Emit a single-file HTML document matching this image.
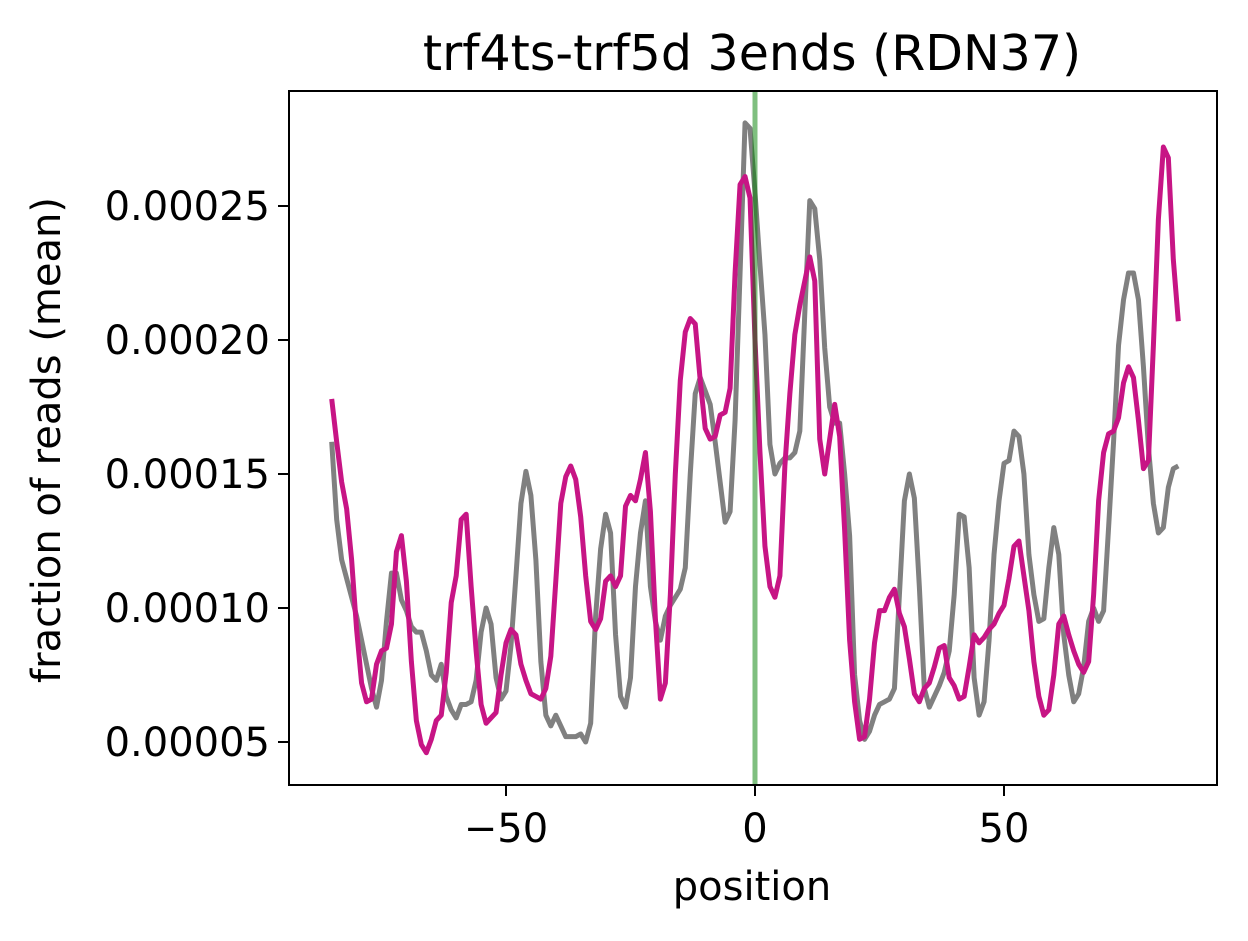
<!DOCTYPE html>
<html><head><meta charset="utf-8"><style>
html,body{margin:0;padding:0;background:#fff;}
svg{display:block;font-family:"DejaVu Sans","Liberation Sans",sans-serif;}
</style></head><body>
<svg id="chart" width="1248" height="941" viewBox="0 0 1248 941" xmlns="http://www.w3.org/2000/svg">
<rect x="0" y="0" width="1248" height="941" fill="#fff"/>
<text x="752" y="70" font-size="49" text-anchor="middle">trf4ts-trf5d 3ends (RDN37)</text>
<g id="plot"></g>
<g id="xticks"></g>
<g id="yticks"></g>
<rect x="289" y="91" width="928" height="694" fill="none" stroke="#000" stroke-width="2"/>
<text x="752" y="900" font-size="40" text-anchor="middle">position</text>
<text transform="translate(60,440) rotate(-90)" font-size="40" text-anchor="middle">fraction of reads (mean)</text>
</svg>
<script>
const startPos = -85;
const grayValues = [
162,133,118,111,104,97,88,79,70,63,
73,95,113,113,103,99,93,91,91,84,
75,73,79,67,62,59,64,64,65,73,
91,100,94,74,66,69,86,112,139,151,
142,118,80,60,56,60,56,52,52,52,
53,50,57,97,122,135,128,90,67,63,
74,108,128,140,108,95,88,97,101,104,
107,115,150,180,186,181,176,162,147,132,
136,170,225,281,279,255,228,202,161,150,
154,156,156,158,166,210,252,249,230,197,
175,169,169,150,127,75,58,51,54,60,
64,65,66,70,105,140,150,141,108,70,
63,67,71,76,84,105,135,134,115,74,
60,65,88,120,140,154,155,166,164,150,
120,105,95,96,115,130,120,90,75,65,
68,78,95,100,95,99,130,162,198,215,
225,225,215,190,160,139,128,130,145,152,
153];
const magentaValues = [
178,162,147,137,118,92,72,65,66,79,
84,85,94,121,127,110,80,58,49,46,
51,58,60,76,102,112,133,135,108,84,
64,57,59,61,75,87,92,90,79,73,
68,67,66,70,82,110,139,149,153,148,
134,112,95,92,96,110,112,108,112,138,
142,140,148,158,136,96,66,72,105,150,
185,203,208,206,185,167,163,164,172,173,
182,225,258,261,253,200,158,123,108,104,
112,153,180,202,213,222,231,222,163,150,
163,176,164,129,88,65,51,52,66,87,
99,99,104,107,98,93,81,68,65,70,
72,78,85,86,74,71,66,67,78,90,
87,89,92,94,98,101,111,123,125,112,
99,80,67,60,62,75,94,97,90,84,
79,76,80,105,140,158,165,166,171,184,
190,186,170,152,155,198,245,272,268,230,
207];
const markerPos = [0];
const xTickValues = [-50, 0, 50];
const xTickLabels = ["\u221250", "0", "50"];
const yTickValues = [0.00005, 0.0001, 0.00015, 0.0002, 0.00025];
const yTickLabels = ["0.00005", "0.00010", "0.00015", "0.00020", "0.00025"];

const NS = "http://www.w3.org/2000/svg";
function xScale(p){ return 755 + p * 4.98; }
function yScale(v){ return 742 - (v - 0.00005) / 0.00005 * 134; }

const plot = document.getElementById('plot');
function drawLine(vals, color, w, name){
  let d = '';
  vals.forEach((v,i)=>{ d += (i?'L':'M') + xScale(startPos+i).toFixed(2) + ' ' + yScale(v*1e-6).toFixed(2) + ' '; });
  const p = document.createElementNS(NS,'path');
  p.setAttribute('d', d);
  p.setAttribute('fill','none');
  p.setAttribute('stroke', color);
  p.setAttribute('stroke-width', w);
  p.setAttribute('stroke-linejoin','round');
  
  
  plot.appendChild(p);
}
drawLine(grayValues, '#808080', 5, 'gray-series-line');
drawLine(magentaValues, '#c71585', 5, 'magenta-series-line');
markerPos.forEach(m=>{
  const l = document.createElementNS(NS,'line');
  l.setAttribute('x1', xScale(m)); l.setAttribute('x2', xScale(m));
  l.setAttribute('y1', 91); l.setAttribute('y2', 785);
  l.setAttribute('stroke', '#008000'); l.setAttribute('stroke-opacity','0.5');
  l.setAttribute('stroke-width', 5);
  
  
  plot.appendChild(l);
});
const xt = document.getElementById('xticks');
xTickValues.forEach((v,i)=>{
  const x = xScale(v);
  const t = document.createElementNS(NS,'line');
  t.setAttribute('x1',x); t.setAttribute('x2',x); t.setAttribute('y1',785); t.setAttribute('y2',796);
  t.setAttribute('stroke','#000'); t.setAttribute('stroke-width',2);
  
  
  xt.appendChild(t);
  const tx = document.createElementNS(NS,'text');
  tx.setAttribute('x',x); tx.setAttribute('y',842); tx.setAttribute('font-size','40'); tx.setAttribute('text-anchor','middle');
  tx.textContent = xTickLabels[i];
  
  
  xt.appendChild(tx);
});
const yt = document.getElementById('yticks');
yTickValues.forEach((v,i)=>{
  const y = yScale(v);
  const t = document.createElementNS(NS,'line');
  t.setAttribute('x1',278); t.setAttribute('x2',289); t.setAttribute('y1',y); t.setAttribute('y2',y);
  t.setAttribute('stroke','#000'); t.setAttribute('stroke-width',2);
  
  
  yt.appendChild(t);
  const tx = document.createElementNS(NS,'text');
  tx.setAttribute('x',270); tx.setAttribute('y',y+14); tx.setAttribute('font-size','40'); tx.setAttribute('text-anchor','end');
  tx.textContent = yTickLabels[i];
  
  
  yt.appendChild(tx);
});
</script>
</body></html>
